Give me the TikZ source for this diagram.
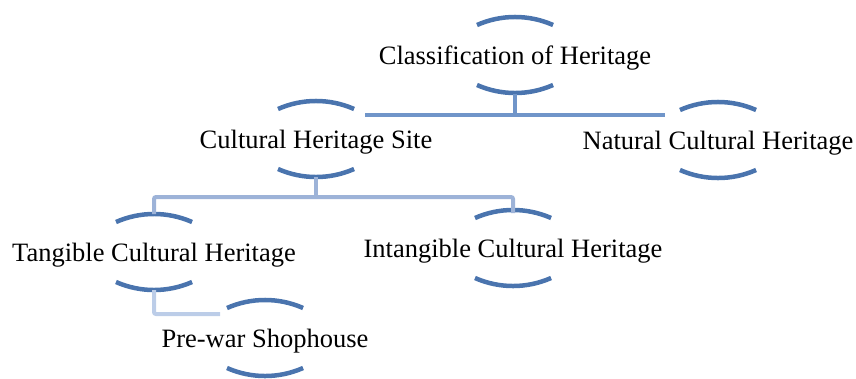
\documentclass[tikz,border=0pt]{standalone}
\usepackage{fontspec}
\setmainfont{Liberation Serif}
\definecolor{arcblue}{HTML}{4A74AE}
\definecolor{lineone}{HTML}{7095C9}
\definecolor{linetwo}{HTML}{9DB3D8}
\definecolor{linethree}{HTML}{BCCDE8}
\tikzset{
  lbl/.style={inner sep=0pt, font=\fontsize{26.5}{30}\selectfont, text=black},
  arcline/.style={draw=arcblue, line width=4.5pt},
  conone/.style={draw=lineone, line width=4pt},
  contwo/.style={draw=linetwo, line width=4pt, rounded corners=2pt},
  conthree/.style={draw=linethree, line width=4pt, rounded corners=2pt},
}
\begin{document}
\begin{tikzpicture}[x=1pt,y=-1pt]
\useasboundingbox (0,0) rectangle (856,378);
\node[lbl] (c) at (515,58) {Classification of Heritage};
\node[lbl] (s) at (316,142) {Cultural Heritage Site};
\node[lbl] (n) at (718,143) {Natural Cultural Heritage};
\node[lbl] (t) at (154,255) {Tangible Cultural Heritage};
\node[lbl] (i) at (513,251) {Intangible Cultural Heritage};
\node[lbl] (p) at (265,341) {Pre-war Shophouse};
% arcs above and below each label
\foreach \m in {c,s,n,t,i,p}{
  \draw[arcline] ([xshift=-38pt,yshift=33pt]\m.center) arc[start angle=113.8,end angle=66.2,radius=94.25pt];
  \draw[arcline] ([xshift=-38pt,yshift=-27pt]\m.center) arc[start angle=246.2,end angle=293.8,radius=94.25pt];
}
% level 1 connectors
\coordinate (cj) at (515,115);
\draw[conone] ([yshift=-36pt]c.center) -- (cj);
\draw[conone] ([xshift=49pt]s.center |- cj) -- ([xshift=-53pt]n.center |- cj);
% level 2 connectors
\coordinate (sj) at (316,197);
\draw[contwo] ([yshift=-35pt]s.center) -- (sj);
\draw[contwo] ([yshift=41pt]t.center) |- (sj) -| ([yshift=38pt]i.center);
% level 3 connector
\draw[conthree] ([yshift=-35pt]t.center) |- ([xshift=-45pt,yshift=27pt]p.center);
\end{tikzpicture}
\end{document}
